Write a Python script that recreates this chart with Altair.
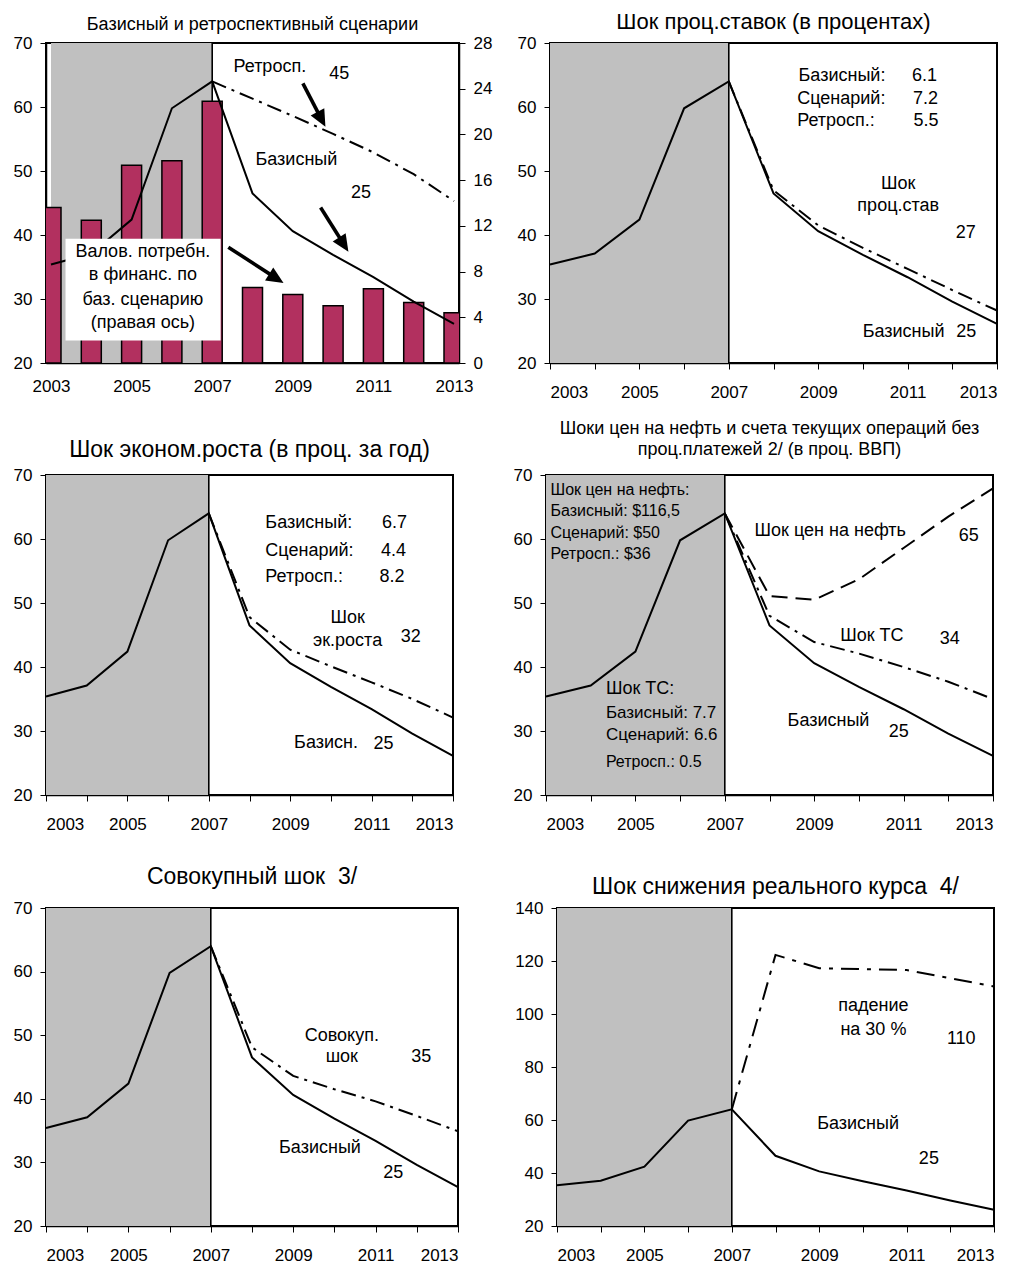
import altair as alt
import pandas as pd

FONT = "Liberation Sans"

YEARS = list(range(2003, 2014))
BASELINE = [35.4, 37.1, 42.4, 59.8, 64.0, 46.5, 40.6, 36.9, 33.4, 29.6, 26.1]
PROJ_YEARS = list(range(2007, 2014))
RETRO = [64.0, 61.3, 58.6, 55.8, 52.9, 49.5, 45.3]
IRATE = [64.0, 47.0, 41.5, 38.0, 34.7, 31.4, 28.2]
GROWTH = [64.0, 47.8, 42.7, 40.1, 37.6, 35.0, 32.1]
OIL = [64.0, 51.1, 50.5, 53.7, 58.6, 63.5, 67.9]
CA = [64.0, 48.0, 43.9, 42.1, 40.0, 37.7, 35.0]
COMBINED = [64.0, 48.1, 43.6, 41.5, 39.6, 37.3, 34.9]
DEPREC = [64.0, 122.3, 117.3, 116.9, 116.6, 113.5, 110.4]
GFN = [13.6, 12.5, 17.3, 17.7, 22.9, 6.6, 6.0, 5.0, 6.5, 5.3, 4.4]
HIST = [2003, 2007]

Y_TICKS_70 = [20, 30, 40, 50, 60, 70]
Y_TICKS_140 = [20, 40, 60, 80, 100, 120, 140]
Y_TICKS_RIGHT = [0, 4, 8, 12, 16, 20, 24, 28]

NB = "\u00a0"
TITLES = [
    "Базисный и ретроспективный сценарии",
    "Шок проц.ставок (в процентах)",
    "Шок эконом.роста (в проц. за год)",
    ["Шоки цен на нефть и счета текущих операций без", "проц.платежей 2/ (в проц. ВВП)"],
    "Совокупный шок" + NB + NB + "3/",
    "Шок снижения реального курса" + NB + NB + "4/",
]

P1_TEXT = [
    ("Ретросп.", 2008.43, 66.2, 18, "center"),
    ("45", 2010.15, 65.2, 18, "center"),
    ("Базисный", 2009.09, 51.7, 18, "center"),
    ("25", 2010.69, 46.6, 18, "center"),
    ("Валов. потребн.", 2005.28, 37.4, 18, "center"),
    ("в финанс. по", 2005.28, 33.8, 18, "center"),
    ("баз. сценарию", 2005.28, 29.9, 18, "center"),
    ("(правая ось)", 2005.28, 26.3, 18, "center"),
]
P1_BOX = [(2003.36, 2007.21, 23.5, 39.4)]
# start x, start y, tip x, tip y, head angle (deg)
P1_ARROWS = [
    (2009.25, 63.7, 2009.81, 56.9, 152),
    (2009.69, 44.3, 2010.38, 37.4, 147),
    (2007.40, 38.1, 2008.77, 32.5, 122),
]
P2_TEXT = [
    ("Базисный:", 2008.56, 64.8, 18, "left"),
    ("Сценарий:", 2008.53, 61.2, 18, "left"),
    ("Ретросп.:", 2008.53, 57.8, 18, "left"),
    ("6.1", 2011.38, 64.8, 18, "center"),
    ("7.2", 2011.40, 61.2, 18, "center"),
    ("5.5", 2011.41, 57.8, 18, "center"),
    ("Шок", 2010.79, 48.0, 18, "center"),
    ("проц.став", 2010.79, 44.5, 18, "center"),
    ("27", 2012.30, 40.3, 18, "center"),
    ("Базисный", 2010.91, 24.8, 18, "center"),
    ("25", 2012.31, 24.8, 18, "center"),
]
P3_TEXT = [
    ("Базисный:", 2008.39, 62.5, 18, "left"),
    ("Сценарий:", 2008.39, 58.2, 18, "left"),
    ("Ретросп.:", 2008.39, 54.1, 18, "left"),
    ("6.7", 2011.56, 62.5, 18, "center"),
    ("4.4", 2011.54, 58.2, 18, "center"),
    ("8.2", 2011.50, 54.1, 18, "center"),
    ("Шок", 2010.41, 47.6, 18, "center"),
    ("эк.роста", 2010.41, 44.1, 18, "center"),
    ("32", 2011.96, 44.7, 18, "center"),
    ("Базисн.", 2009.88, 28.2, 18, "center"),
    ("25", 2011.29, 28.0, 18, "center"),
]
P4_TEXT = [
    ("Шок цен на нефть:", 2003.10, 67.7, 16, "left"),
    ("Базисный: $116,5", 2003.10, 64.4, 16, "left"),
    ("Сценарий: $50", 2003.10, 61.0, 16, "left"),
    ("Ретросп.: $36", 2003.10, 57.7, 16, "left"),
    ("Шок ТС:", 2004.34, 36.5, 18, "left"),
    ("Базисный: 7.7", 2004.34, 32.8, 17, "left"),
    ("Сценарий: 6.6", 2004.34, 29.3, 17, "left"),
    ("Ретросп.: 0.5", 2004.34, 25.1, 16, "left"),
    ("Шок цен на нефть", 2009.36, 61.2, 18, "center"),
    ("65", 2012.46, 60.4, 18, "center"),
    ("Шок ТС", 2010.29, 44.8, 18, "center"),
    ("34", 2012.03, 44.3, 18, "center"),
    ("Базисный", 2009.32, 31.6, 18, "center"),
    ("25", 2010.89, 29.9, 18, "center"),
]
P5_TEXT = [
    ("Совокуп.", 2010.18, 49.9, 18, "center"),
    ("шок", 2010.18, 46.6, 18, "center"),
    ("35", 2012.11, 46.5, 18, "center"),
    ("Базисный", 2009.65, 32.2, 18, "center"),
    ("25", 2011.43, 28.3, 18, "center"),
]
P6_TEXT = [
    ("падение", 2010.24, 102.9, 18, "center"),
    ("на 30 %", 2010.24, 94.1, 18, "center"),
    ("110", 2012.25, 90.4, 18, "center"),
    ("Базисный", 2009.89, 58.5, 18, "center"),
    ("25", 2011.51, 45.4, 18, "center"),
]

DASHDOT = [15, 6, 3, 6]
DASHED = [16, 8]
BAR_COLOR = "#B2305F"
SHADE = "#C0C0C0"
ARROW_PATH = "M0,0L0.5,1.1L-0.5,1.1Z"


def X(field="year", ticks=True):
    return alt.X(
        f"{field}:Q",
        scale=alt.Scale(domain=[2003, 2013], nice=False, zero=False),
        axis=alt.Axis(values=YEARS, format="d", title=None, ticks=ticks, grid=False,
                      labelExpr="datum.value % 2 == 1 ? datum.label : ''"),
    )


def Y(field, dom, vals, orient="left"):
    return alt.Y(
        f"{field}:Q",
        scale=alt.Scale(domain=dom, nice=False, zero=False),
        axis=alt.Axis(values=vals, title=None, orient=orient, grid=False),
    )


def shade_layers(ticks=True):
    shade = alt.Chart(pd.DataFrame({"x": [HIST[0]], "x2": [HIST[1]]})).mark_rect(
        color=SHADE).encode(x=X("x", ticks), x2="x2:Q")
    rule = alt.Chart(pd.DataFrame({"x": [HIST[1]]})).mark_rule(
        color="black", strokeWidth=1.6).encode(x=X("x", ticks))
    return [shade, rule]


def line_layer(years, values, dom, vals, dash=None, ticks=True):
    df = pd.DataFrame({"year": years, "value": values})
    kw = dict(color="black", strokeWidth=2)
    if dash:
        kw["strokeDash"] = dash
    return alt.Chart(df).mark_line(**kw).encode(x=X("year", ticks), y=Y("value", dom, vals))


def text_layers(items, dom, vals, ticks=True):
    df = pd.DataFrame(items, columns=["text", "x", "y", "size", "align"])
    out = []
    for al in ["left", "center"]:
        sub = df[df["align"] == al]
        if len(sub) == 0:
            continue
        out.append(alt.Chart(sub).mark_text(align=al, baseline="middle", font=FONT, color="black").encode(
            x=X("x", ticks), y=Y("y", dom, vals), text="text:N",
            size=alt.Size("size:Q", scale=None, legend=None)))
    return out


def title(text, size, offset, line_height=None):
    kw = dict(text=text, fontSize=size, offset=offset, font=FONT, fontWeight="normal",
              color="black", anchor="middle", frame="group")
    if line_height:
        kw["lineHeight"] = line_height
    return alt.TitleParams(**kw)


def simple_panel(scen, texts, dom, vals, width, height, ttl):
    layers = shade_layers()
    layers.append(line_layer(YEARS, BASELINE, dom, vals))
    for vals_s, dash in scen:
        layers.append(line_layer(PROJ_YEARS, vals_s, dom, vals, dash))
    layers += text_layers(texts, dom, vals)
    return alt.layer(*layers).properties(width=width, height=height, title=ttl)


# ---------- Panel 1 (with bars on the right axis) ----------
W1, H1 = 413, 320
D70 = [20, 70]
bars = alt.Chart(pd.DataFrame({"year": YEARS, "gfn": GFN})).mark_bar(
    size=20, color=BAR_COLOR, stroke="black", strokeWidth=1.5, clip=True).encode(
    x=X("year", False), y=Y("gfn", [0, 28], Y_TICKS_RIGHT, orient="right"))
inner_ticks = alt.Chart(pd.DataFrame({"year": YEARS})).mark_rule(color="black", strokeWidth=1.2).encode(
    x=X("year", False), y=alt.value(H1 - 6), y2=alt.value(H1))

box = alt.Chart(pd.DataFrame(P1_BOX, columns=["x", "x2", "y", "y2"])).mark_rect(
    color="white", strokeWidth=0).encode(
    x=X("x", False), x2="x2:Q", y=Y("y", D70, Y_TICKS_70), y2="y2:Q")

arr = pd.DataFrame(P1_ARROWS, columns=["x", "y", "xt", "yt", "angle"])
arr["xe"] = arr["x"] + 0.85 * (arr["xt"] - arr["x"])
arr["ye"] = arr["y"] + 0.85 * (arr["yt"] - arr["y"])
shafts = alt.Chart(arr).mark_rule(color="black", strokeWidth=3.6).encode(
    x=X("x", False), y=Y("y", D70, Y_TICKS_70), x2="xe:Q", y2="ye:Q")
heads = alt.Chart(arr).mark_point(shape=ARROW_PATH, filled=True, size=950, color="black",
                                  opacity=1, strokeWidth=0).encode(
    x=X("xt", False), y=Y("yt", D70, Y_TICKS_70), angle=alt.Angle("angle:Q", scale=None))

left_layer = alt.layer(
    line_layer(YEARS, BASELINE, D70, Y_TICKS_70, ticks=False),
    line_layer(PROJ_YEARS, RETRO, D70, Y_TICKS_70, DASHDOT, ticks=False),
    box,
    *text_layers(P1_TEXT, D70, Y_TICKS_70, ticks=False),
    shafts, heads,
)
p1 = alt.layer(*shade_layers(False), inner_ticks, bars, left_layer).resolve_scale(y="independent").properties(
    width=W1, height=H1, title=title(TITLES[0], 18, 0))

p2 = simple_panel([(IRATE, DASHDOT)], P2_TEXT, D70, Y_TICKS_70, 447, 320, title(TITLES[1], 22, 0))
p3 = simple_panel([(GROWTH, DASHDOT)], P3_TEXT, D70, Y_TICKS_70, 407, 320, title(TITLES[2], 23, 4))
p4 = simple_panel([(OIL, DASHED), (CA, DASHDOT)], P4_TEXT, D70, Y_TICKS_70, 447, 320,
                  title(TITLES[3], 18, 7, 21))
p5 = simple_panel([(COMBINED, DASHDOT)], P5_TEXT, D70, Y_TICKS_70, 412, 318, title(TITLES[4], 23, 10))
p6 = simple_panel([(DEPREC, [18, 8, 4, 8])], P6_TEXT, [20, 140], Y_TICKS_140, 437, 318,
                  title(TITLES[5], 23, 0))

row1 = alt.hconcat(p1, p2, spacing=23)
row2 = alt.hconcat(p3, p4, spacing=54)
row3 = alt.hconcat(p5, p6, spacing=50)

chart = alt.vconcat(row1, alt.vconcat(row2, row3, spacing=32), spacing=18).properties(
    padding={"left": 4, "top": 2, "right": 5, "bottom": 2}
).configure_view(stroke="black", strokeWidth=2).configure_axis(
    labelFont=FONT, labelFontSize=17, labelColor="black", tickColor="black", tickSize=6,
    domainColor="black", domainWidth=1.5, grid=False
).configure_axisX(labelPadding=15).configure_axisY(labelPadding=8).configure_title(
    font=FONT, fontWeight="normal", color="black")

chart.save("out.html", embed_options={"renderer": "svg", "actions": False})
